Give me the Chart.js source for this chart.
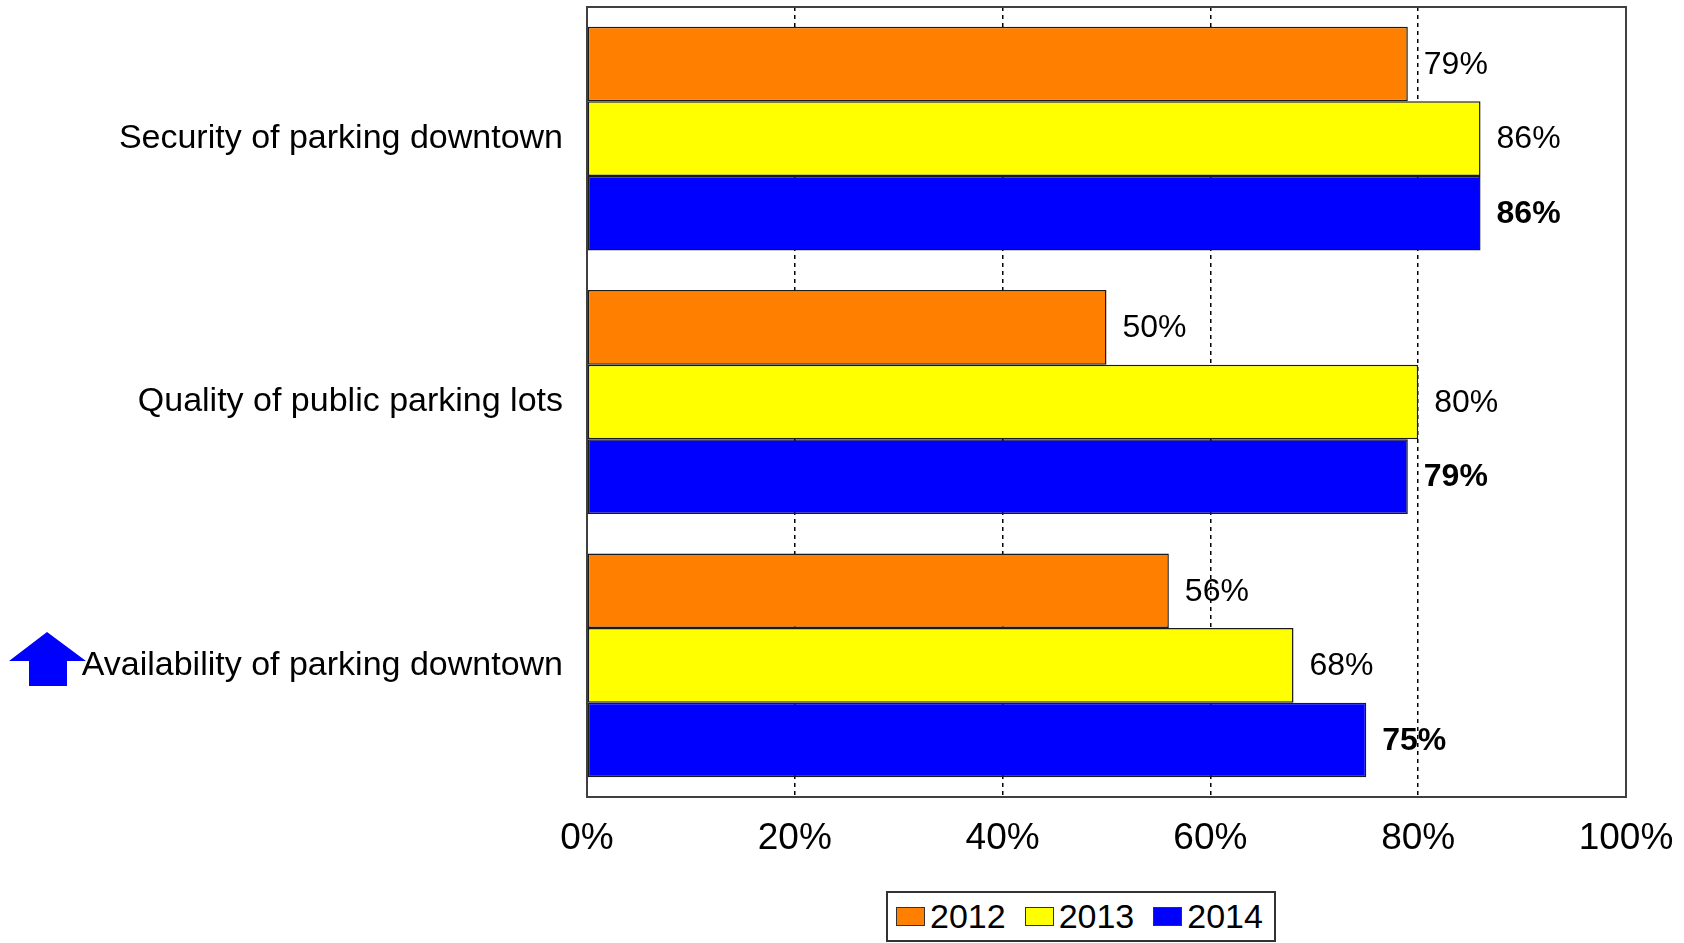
<!DOCTYPE html>
<html>
<head>
<meta charset="utf-8">
<script src="https://cdn.jsdelivr.net/npm/chart.js@4.4.1/dist/chart.umd.min.js"></script>
<style>
  html, body { margin: 0; padding: 0; background: #fff; }
  #wrap { position: relative; width: 1684px; height: 943px; }
  #legenda {
    position: absolute; left: 886px; top: 891px; width: 390px; height: 51px;
    box-sizing: border-box; border: 2px solid #333; background: #fff;
    display: flex; align-items: center; padding-left: 8px;
    font-family: 'Liberation Sans', Arial, sans-serif; font-size: 34px; color: #000;
  }
  .item { display: flex; align-items: center; margin-right: 19px; }
  .cor { width: 29px; height: 19px; box-sizing: border-box; border: 1.5px solid #333; margin-right: 5px; }
</style>
</head>
<body>
<div id="wrap">
  <canvas id="grafico" width="1684" height="943"></canvas>
  <div id="legenda"></div>
</div>
<script>
// ---- dados ----
const categorias = ['Security of parking downtown', 'Quality of public parking lots', 'Availability of parking downtown'];
const anos = ['2012', '2013', '2014'];
const v2012 = [79, 50, 56];
const v2013 = [86, 80, 68];
const v2014 = [86, 79, 75];
const ticksX = [0, 20, 40, 60, 80, 100];

const CORES = ['#FF8000', '#FFFF00', '#0000FF'];
const FONTE = "'Liberation Sans', Arial, sans-serif";

Chart.defaults.font.family = FONTE;
Chart.defaults.color = '#000';

// ---- rótulos nas pontas das barras ----
const rotulos = {
  id: 'rotulos',
  afterDatasetsDraw(chart) {
    const ctx = chart.ctx;
    ctx.save();
    ctx.fillStyle = '#000';
    ctx.textBaseline = 'middle';
    ctx.textAlign = 'left';
    chart.data.datasets.forEach((ds, i) => {
      const meta = chart.getDatasetMeta(i);
      ctx.font = (i === 2 ? 'bold ' : '') + '32px ' + FONTE;
      meta.data.forEach((bar, j) => {
        ctx.fillText(ds.data[j] + '%', bar.x + 16, bar.y + 1);
      });
    });
    // moldura da área do gráfico
    const a = chart.chartArea;
    ctx.strokeStyle = '#404040';
    ctx.lineWidth = 2;
    ctx.strokeRect(a.left, a.top, a.right - a.left, a.bottom - a.top);
    // seta azul (destaque)
    ctx.fillStyle = '#0000FF';
    ctx.beginPath();
    ctx.moveTo(47, 632);
    ctx.lineTo(86, 661);
    ctx.lineTo(67, 661);
    ctx.lineTo(67, 686);
    ctx.lineTo(29, 686);
    ctx.lineTo(29, 661);
    ctx.lineTo(9, 661);
    ctx.closePath();
    ctx.fill();
    ctx.restore();
  }
};

const dados = [v2012, v2013, v2014];

new Chart(document.getElementById('grafico').getContext('2d'), {
  type: 'bar',
  data: {
    labels: categorias,
    datasets: anos.map((a, i) => ({
      label: a,
      data: dados[i],
      backgroundColor: CORES[i],
      borderColor: '#1a1a1a',
      borderWidth: 1.5,
      borderSkipped: false,
      barPercentage: 1,
      categoryPercentage: 0.85
    }))
  },
  options: {
    indexAxis: 'y',
    responsive: false,
    animation: false,
    layout: { padding: { top: 7, right: 58, bottom: 0, left: 0 } },
    plugins: { legend: { display: false }, tooltip: { enabled: false } },
    scales: {
      x: {
        min: 0, max: 100,
        afterFit: s => { s.height = 146; s.paddingRight = 0; },
        afterBuildTicks: s => { s.ticks = ticksX.map(v => ({ value: v })); },
        grid: { color: '#000', lineWidth: 1.5, drawTicks: false },
        border: { display: false, dash: [4, 4] },
        ticks: { padding: 20, font: { size: 37 }, color: '#000', callback: v => v + '%' }
      },
      y: {
        afterFit: s => { s.width = 587; s.paddingTop = 0; s.paddingBottom = 0; },
        grid: { display: false, drawTicks: false },
        border: { display: false },
        ticks: { padding: 24, font: { size: 34 }, color: '#000' }
      }
    }
  },
  plugins: [rotulos]
});

// ---- legenda ----
document.getElementById('legenda').innerHTML = anos.map((a, i) =>
  `<div class="item"><div class="cor" style="background:${CORES[i]}"></div><span>${a}</span></div>`
).join('');
</script>
</body>
</html>
